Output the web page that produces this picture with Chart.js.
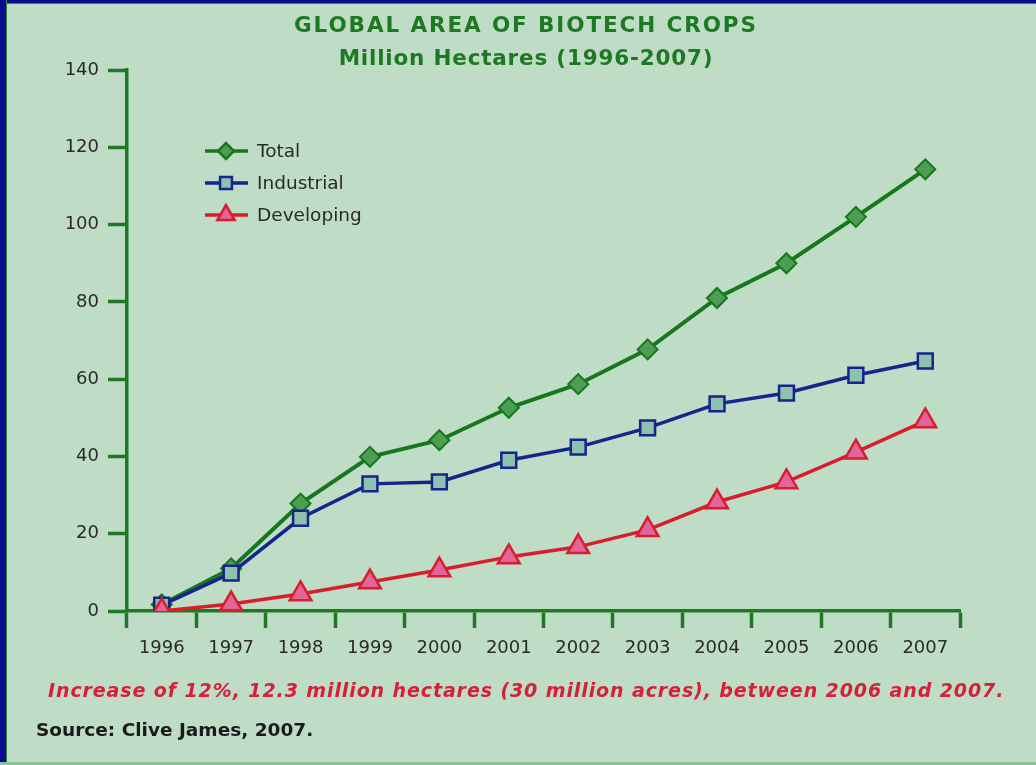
<!DOCTYPE html>
<html>
<head>
<meta charset="utf-8">
<script src="https://cdn.jsdelivr.net/npm/chart.js@4/dist/chart.umd.min.js"></script>
<style>
  html, body { margin: 0; padding: 0; }
  body { width: 1036px; height: 765px; position: relative; overflow: hidden; background: #bfdcc7; font-family: 'DejaVu Sans', sans-serif; }
  .frame-top { position: absolute; left: 0; top: 0; width: 1036px; height: 3px; background: #0b0b8c; border-bottom: 1px solid #2f8a3a; }
  .frame-left { position: absolute; left: 0; top: 0; width: 6px; height: 765px; background: #0b0b8c; border-right: 1px solid #2f8a3a; }
  .frame-bottom { position: absolute; left: 0; top: 762px; width: 1036px; height: 3px; background: #8cc49a; }
  #chart { position: absolute; left: 0; top: 0; }
  .title { position: absolute; left: 0; width: 1052px; text-align: center; color: #1d7a22; font-weight: bold; font-size: 21.5px; letter-spacing: 1.9px; }
  .note { position: absolute; left: 48px; top: 679px; color: #d4203a; font-weight: bold; font-style: italic; font-size: 19px; letter-spacing: 0.9px; white-space: nowrap; }
  .source { position: absolute; left: 36px; top: 719px; color: #1a1a1a; font-weight: bold; font-size: 18.5px; white-space: nowrap; }
</style>
</head>
<body>
<canvas id="chart" width="1036" height="765"></canvas>
<div class="frame-top"></div>
<div class="frame-left"></div>
<div class="frame-bottom"></div>
<div class="title" style="top:12px">GLOBAL AREA OF BIOTECH CROPS</div>
<div class="title" style="top:45px; letter-spacing: 0.8px">Million Hectares (1996-2007)</div>
<div class="note">Increase of 12%, 12.3 million hectares (30 million acres), between 2006 and 2007.</div>
<div class="source">Source: Clive James, 2007.</div>
<script>
const years = ['1996', '1997', '1998', '1999', '2000', '2001', '2002', '2003', '2004', '2005', '2006', '2007'];
const total = [1.7, 11.0, 27.8, 39.9, 44.2, 52.6, 58.7, 67.7, 81.0, 90.0, 102.0, 114.3];
const industrial = [1.5, 9.8, 24.0, 32.9, 33.4, 39.0, 42.4, 47.4, 53.6, 56.4, 61.0, 64.7];
const developing = [0.0, 1.8, 4.4, 7.5, 10.6, 14.0, 16.6, 21.0, 28.2, 33.4, 41.1, 49.2];
const yTicks = [0, 20, 40, 60, 80, 100, 120, 140];

const AXIS = '#1d7a22';
const TICK_FONT = { family: 'DejaVu Sans', size: 18 };

// legend drawn inside the plot, top-left
const insideLegend = {
  id: 'insideLegend',
  afterDatasetsDraw(chart) {
    const ctx = chart.ctx;
    chart.data.datasets.forEach((ds, i) => {
      const y = 151 + i * 32;
      ctx.save();
      ctx.strokeStyle = ds.borderColor;
      ctx.lineWidth = 3.5;
      ctx.beginPath();
      ctx.moveTo(205, y);
      ctx.lineTo(248, y);
      ctx.stroke();
      ctx.fillStyle = ds.pointBackgroundColor;
      ctx.strokeStyle = ds.borderColor;
      ctx.lineWidth = 2.5;
      Chart.helpers.drawPoint(ctx, { pointStyle: ds.pointStyle, rotation: 0, radius: ds.pointRadius * 0.8, borderWidth: 2.5 }, 226, y);
      ctx.fillStyle = '#2a2a2a';
      ctx.font = '18.5px "DejaVu Sans", sans-serif';
      ctx.textBaseline = 'middle';
      ctx.fillText(ds.label, 257, y + 1);
      ctx.restore();
    });
  }
};

new Chart(document.getElementById('chart'), {
  type: 'line',
  data: {
    labels: years,
    datasets: [
      {
        label: 'Total',
        data: total,
        order: 3,
        borderColor: '#16781c',
        pointBackgroundColor: '#4f9c55',
        pointBorderColor: '#16781c',
        pointStyle: 'rectRot',
        pointRadius: 10,
        pointBorderWidth: 2,
        borderWidth: 4,
      },
      {
        label: 'Industrial',
        data: industrial,
        order: 2,
        borderColor: '#16248c',
        pointBackgroundColor: '#8ec2ae',
        pointBorderColor: '#16248c',
        pointStyle: 'rect',
        pointRadius: 10.5,
        pointBorderWidth: 2.5,
        borderWidth: 3.5,
      },
      {
        label: 'Developing',
        data: developing,
        order: 1,
        borderColor: '#d81e2c',
        pointBackgroundColor: '#e2649a',
        pointBorderColor: '#d81e2c',
        pointStyle: 'triangle',
        pointRadius: 12.5,
        pointBorderWidth: 2.5,
        borderWidth: 3.5,
      },
    ],
  },
  options: {
    responsive: false,
    animation: false,
    devicePixelRatio: 1,
    layout: { padding: { left: 0, top: 70, right: 76, bottom: 94 } },
    plugins: {
      legend: { display: false },
      tooltip: { enabled: false },
    },
    scales: {
      x: {
        offset: true,
        afterFit: s => { s.height = 60; },
        border: { display: true, color: AXIS, width: 3.5 },
        grid: { display: true, drawOnChartArea: false, drawTicks: true, offset: true, tickLength: 17, tickWidth: 3.5, tickColor: AXIS },
        ticks: { color: '#2a2a2a', font: TICK_FONT, padding: 10 },
      },
      y: {
        min: 0,
        max: 140,
        afterFit: s => { s.width = 127; },
        afterBuildTicks: s => { s.ticks = yTicks.map(v => ({ value: v })); },
        border: { display: true, color: AXIS, width: 3.5 },
        grid: { display: true, drawOnChartArea: false, drawTicks: true, tickLength: 19, tickWidth: 3.5, tickColor: AXIS },
        ticks: { color: '#2a2a2a', font: TICK_FONT, padding: 9 },
      },
    },
  },
  plugins: [insideLegend],
});
</script>
</body>
</html>
